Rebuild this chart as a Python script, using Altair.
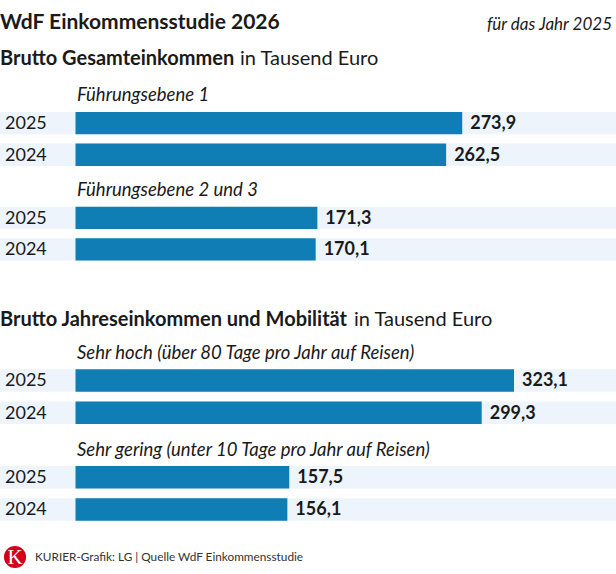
import altair as alt
import pandas as pd

# ---- data -------------------------------------------------------------
title_text = "WdF Einkommensstudie 2026"
year_note = "für das Jahr 2025"
sec1_head_bold = "Brutto Gesamteinkommen"
sec1_head_rest = "in Tausend Euro"
sec2_head_bold = "Brutto Jahreseinkommen und Mobilität"
sec2_head_rest = "in Tausend Euro"
years = ["2025", "2024"]
sec1_groups = ["Führungsebene 1", "Führungsebene 2 und 3"]
sec1_v2025 = [273.9, 171.3]
sec1_v2024 = [262.5, 170.1]
sec2_groups = ["Sehr hoch (über 80 Tage pro Jahr auf Reisen)",
               "Sehr gering (unter 10 Tage pro Jahr auf Reisen)"]
sec2_v2025 = [323.1, 157.5]
sec2_v2024 = [299.3, 156.1]
footer_logo = "K"
footer_text = "KURIER-Grafik: LG | Quelle WdF Einkommensstudie"

# ---- style ------------------------------------------------------------
FONT = "Lato"
BAR = "#0e7eb5"
BAND = "#edf4fc"
INK = "#1a1a1a"
W, H = 616, 574


def section(prefix, groups, v25, v24, y_range, pad, x_max, label_dy):
    rows, order = [], []
    for i, g in enumerate(groups):
        key = f"{prefix}{i}"
        order.append(key)
        rows.append(dict(row=key, kind="label", label=g, year="", value=0.0))
        for yr, v in zip(years, [v25[i], v24[i]]):
            k = f"{key}|{yr}"
            order.append(k)
            rows.append(dict(row=k, kind="bar", label=g, year=yr, value=v))
    df = pd.DataFrame(rows)
    yenc = alt.Y("row:N", axis=None,
                 scale=alt.Scale(domain=order, range=y_range,
                                 paddingInner=pad, paddingOuter=pad / 2))
    xenc = alt.X("value:Q", axis=None,
                 scale=alt.Scale(domain=[0, x_max], range=[75.5, W], nice=False))
    base = alt.Chart(df)
    barsrc = base.transform_filter("datum.kind == 'bar'")
    bands = barsrc.mark_rect(color=BAND).encode(
        y=yenc, x=alt.value(0), x2=alt.value(W))
    bars = barsrc.mark_bar(color=BAR).encode(y=yenc, x=xenc)
    vals = barsrc.transform_calculate(
        lab="replace(format(datum.value, '.1f'), '.', ',')"
    ).mark_text(align="left", baseline="middle", dx=8, dy=1, font=FONT,
                fontSize=18, fontWeight="bold", color=INK).encode(
        y=yenc, x=xenc, text="lab:N")
    yrs = barsrc.mark_text(align="left", baseline="middle", dy=1, font=FONT,
                           fontSize=18, color=INK).encode(
        y=yenc, x=alt.value(5), text="year:N")
    labs = base.transform_filter("datum.kind == 'label'").mark_text(
        align="left", baseline="alphabetic", dy=label_dy, font=FONT,
        fontSize=18.5, fontStyle="italic", color=INK).encode(
        y=yenc, x=alt.value(77), text="label:N")
    return alt.layer(bands, bars, vals, yrs, labs)


def txt(s, x, y, color=INK, **kw):
    return alt.Chart(pd.DataFrame({"t": [s]})).mark_text(
        baseline="alphabetic", font=FONT, color=color, **kw).encode(
        x=alt.value(x), y=alt.value(y), text="t:N")


sec1 = section("a", sec1_groups, sec1_v2025, sec1_v2024,
               [75.8, 265.25], 0.294, 382.8, 9.4)
sec2 = section("b", sec2_groups, sec2_v2025, sec2_v2024,
               [332.1, 525.6], 0.305, 398.25, 10.7)

title = txt(title_text, 0, 29, align="left", fontSize=21, fontWeight="bold")
note = txt(year_note, 612, 30, align="right", fontSize=17, fontStyle="italic")
h1a = txt(sec1_head_bold, 0, 65, align="left", fontSize=20, fontWeight="bold")
h1b = txt(sec1_head_rest, 240, 65, align="left", fontSize=20)
h2a = txt(sec2_head_bold, 0, 326, align="left", fontSize=20, fontWeight="bold")
h2b = txt(sec2_head_rest, 354, 326, align="left", fontSize=20)

logo_df = pd.DataFrame({"t": [footer_logo]})
logo = alt.Chart(logo_df).mark_circle(size=490, color="#d2001a", opacity=1).encode(
    x=alt.value(15), y=alt.value(557))
logo_k = alt.Chart(logo_df).mark_text(
    font="Liberation Serif", fontSize=21, color="white", align="center",
    baseline="middle").encode(x=alt.value(15), y=alt.value(558), text="t:N")
foot = txt(footer_text, 35, 561, color="#333333", align="left", fontSize=11.8)

chart = alt.layer(
    sec1, sec2, title, note, h1a, h1b, h2a, h2b, logo, logo_k, foot
).resolve_scale(x="independent", y="independent").properties(
    width=W, height=H, padding=0, background="white",
    autosize=alt.AutoSizeParams(type="none"),
).configure_view(stroke=None)

chart.save("out.html", embed_options={"renderer": "svg", "actions": False})
